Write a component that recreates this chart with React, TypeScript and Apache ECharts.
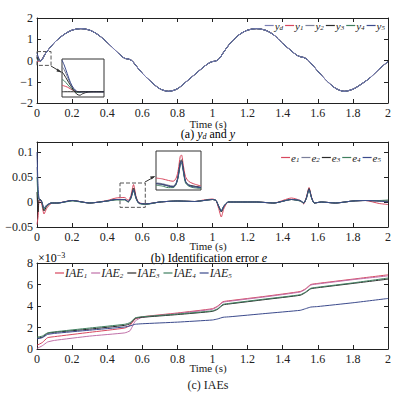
import React, { useEffect, useRef } from "react";
import * as echarts from "echarts";

const FONT = "'Liberation Serif', 'Times New Roman', serif";

// ---------- (a) reference and outputs ----------
const ydT = [0, 0.02, 0.05, 0.1, 0.15, 0.2, 0.25, 0.3, 0.35, 0.4, 0.45, 0.48, 0.5, 0.52, 0.54, 0.56, 0.6, 0.65, 0.7, 0.75, 0.8, 0.85, 0.9, 0.95, 0.98, 1.0, 1.02, 1.04, 1.06, 1.1, 1.15, 1.2, 1.25, 1.3, 1.35, 1.4, 1.45, 1.48, 1.5, 1.52, 1.54, 1.56, 1.6, 1.65, 1.7, 1.75, 1.8, 1.85, 1.9, 1.95, 2.0];
const ydV = [0, -0.02, 0.35, 0.85, 1.2, 1.43, 1.5, 1.43, 1.2, 0.85, 0.45, 0.22, 0.1, 0.07, 0.0, -0.2, -0.6, -1.0, -1.33, -1.45, -1.33, -1.0, -0.65, -0.3, -0.12, -0.05, -0.02, 0.1, 0.35, 0.8, 1.2, 1.43, 1.5, 1.43, 1.2, 0.8, 0.45, 0.25, 0.18, 0.14, 0.05, -0.12, -0.5, -0.95, -1.3, -1.45, -1.35, -1.1, -0.8, -0.4, -0.05];
const y1V = [-0.05, ...ydV.slice(1)];
const y2V = [0.25, ...ydV.slice(1)];
const y3V = [0.15, ...ydV.slice(1)];
const y4V = [0.05, ...ydV.slice(1)];
const y5V = [0.35, ...ydV.slice(1)];

// inset (a): start-up transient
const insAT = [0, 0.004, 0.01, 0.016, 0.022, 0.028, 0.034, 0.04, 0.05, 0.06, 0.08];
const insYd = [-0.16, -0.16, -0.16, -0.16, -0.16, -0.16, -0.16, -0.16, -0.16, -0.16, -0.16];
const insY1 = [-0.05, -0.06, -0.08, -0.11, -0.14, -0.16, -0.165, -0.16, -0.16, -0.16, -0.16];
const insY2 = [0.27, 0.22, 0.1, -0.02, -0.11, -0.16, -0.17, -0.16, -0.16, -0.16, -0.16];
const insY3 = [0.18, 0.13, 0.04, -0.05, -0.13, -0.2, -0.22, -0.19, -0.165, -0.16, -0.16];
const insY4 = [0.05, 0.03, -0.03, -0.09, -0.14, -0.17, -0.17, -0.16, -0.16, -0.16, -0.16];
const insY5 = [0.38, 0.3, 0.15, 0.0, -0.1, -0.15, -0.165, -0.16, -0.16, -0.16, -0.16];

// ---------- (b) identification errors ----------
const eT = [0, 0.006, 0.012, 0.02, 0.028, 0.04, 0.055, 0.08, 0.12, 0.2, 0.3, 0.4, 0.45, 0.5, 0.52, 0.535, 0.55, 0.565, 0.58, 0.62, 0.7, 0.8, 0.9, 0.95, 1.0, 1.02, 1.035, 1.05, 1.065, 1.09, 1.15, 1.25, 1.35, 1.45, 1.5, 1.52, 1.535, 1.55, 1.565, 1.58, 1.62, 1.7, 1.8, 1.87, 1.95, 2.0];
const e1 = [-0.045, -0.03, 0.004, 0.004, -0.006, -0.024, -0.013, -0.003, -0.002, 0.003, -0.002, 0.003, 0.008, 0.009, 0.003, 0.013, 0.035, 0.01, -0.001, -0.004, 0.0, 0.002, 0.001, 0.004, 0.006, 0.003, -0.013, -0.03, -0.013, 0.0, 0.0, 0.0, -0.002, 0.008, 0.003, -0.004, 0.01, 0.029, 0.009, -0.002, 0.0, -0.002, 0.002, 0.003, -0.003, -0.005];
const e2 = [0.07, 0.02, 0.006, 0.005, 0.0, -0.016, -0.008, -0.002, -0.002, 0.003, -0.002, 0.002, 0.005, 0.005, 0.001, 0.008, 0.026, 0.008, -0.002, -0.004, 0.0, 0.002, 0.001, 0.003, 0.005, 0.003, -0.008, -0.019, -0.008, 0.0, 0.0, 0.0, -0.002, 0.005, 0.003, -0.002, 0.008, 0.026, 0.008, -0.002, 0.0, -0.002, 0.002, 0.003, 0.002, 0.001];
const e3 = [0.02, -0.02, 0.005, 0.005, -0.001, -0.018, -0.009, -0.002, -0.002, 0.003, -0.002, 0.002, 0.005, 0.005, 0.0, 0.009, 0.028, 0.008, -0.002, -0.004, 0.0, 0.002, 0.001, 0.003, 0.005, 0.003, -0.009, -0.02, -0.009, 0.0, 0.0, 0.0, -0.002, 0.005, 0.002, -0.002, 0.008, 0.027, 0.008, -0.002, 0.0, -0.002, 0.002, 0.003, 0.002, 0.002];
const e4 = [0.05, 0.01, 0.005, 0.004, 0.0, -0.014, -0.007, -0.002, -0.002, 0.002, -0.002, 0.002, 0.004, 0.004, 0.0, 0.007, 0.022, 0.006, -0.003, -0.005, 0.0, 0.002, 0.001, 0.003, 0.005, 0.003, -0.008, -0.017, -0.008, 0.0, 0.0, 0.0, -0.002, 0.005, 0.002, -0.002, 0.007, 0.024, 0.007, -0.002, 0.0, -0.002, 0.002, 0.003, 0.003, 0.004];
const e5 = [0.1, 0.03, 0.005, 0.004, 0.0, -0.012, -0.006, -0.002, -0.002, 0.003, -0.002, 0.002, 0.005, 0.005, 0.001, 0.008, 0.024, 0.007, -0.002, -0.004, 0.0, 0.002, 0.001, 0.003, 0.005, 0.003, -0.008, -0.018, -0.008, 0.0, 0.0, 0.0, -0.002, 0.005, 0.003, -0.002, 0.008, 0.025, 0.008, -0.002, 0.0, -0.002, 0.002, 0.003, 0.002, 0.0];

// inset (b): zoom on the spike near 0.55 s
const insBT = [0.47, 0.49, 0.51, 0.525, 0.535, 0.542, 0.548, 0.552, 0.558, 0.565, 0.575, 0.59, 0.615];
const insE1 = [0.004, 0.003, 0.001, 0.0, 0.004, 0.015, 0.031, 0.033, 0.02, 0.006, 0.0, -0.003, -0.006];
const insE2 = [-0.002, -0.003, -0.005, -0.006, -0.002, 0.008, 0.022, 0.025, 0.014, 0.0, -0.004, -0.006, -0.007];
const insE3 = [-0.003, -0.004, -0.006, -0.007, -0.003, 0.008, 0.024, 0.027, 0.015, 0.0, -0.005, -0.006, -0.008];
const insE4 = [-0.005, -0.006, -0.008, -0.008, -0.004, 0.006, 0.02, 0.023, 0.012, -0.002, -0.006, -0.008, -0.009];
const insE5 = [-0.003, -0.004, -0.006, -0.007, -0.003, 0.007, 0.022, 0.025, 0.014, 0.0, -0.005, -0.007, -0.008];

// ---------- (c) IAEs (x 10^-3) ----------
const iT = [0, 0.03, 0.06, 0.1, 0.3, 0.5, 0.53, 0.56, 0.6, 0.8, 1.0, 1.03, 1.06, 1.1, 1.3, 1.5, 1.53, 1.56, 1.6, 1.8, 2.0];
const iae1 = [0.35, 0.6, 1.05, 1.15, 1.55, 1.95, 2.2, 2.8, 3.0, 3.35, 3.75, 4.0, 4.4, 4.5, 4.9, 5.35, 5.6, 6.0, 6.1, 6.5, 6.9];
const iae2 = [0.05, 0.3, 0.65, 0.8, 1.2, 1.5, 1.7, 2.6, 2.95, 3.3, 3.7, 3.95, 4.35, 4.45, 4.85, 5.3, 5.55, 5.95, 6.05, 6.45, 6.8];
const iae3 = [1.0, 1.1, 1.45, 1.55, 1.85, 2.2, 2.35, 2.85, 2.95, 3.2, 3.5, 3.7, 4.1, 4.2, 4.6, 5.0, 5.25, 5.6, 5.7, 6.1, 6.5];
const iae4 = [1.1, 1.2, 1.5, 1.6, 1.95, 2.3, 2.45, 2.9, 3.0, 3.25, 3.55, 3.75, 4.15, 4.25, 4.65, 5.05, 5.3, 5.65, 5.75, 6.15, 6.6];
const iae5 = [0.95, 1.05, 1.35, 1.45, 1.75, 2.05, 2.15, 2.3, 2.35, 2.5, 2.7, 2.8, 2.95, 3.0, 3.3, 3.6, 3.75, 3.9, 3.95, 4.3, 4.7];

const xTicks = { min: 0, max: 2, interval: 0.2 };

const C = {
  yd: "#7c80b6",
  s1: "#d8475e",
  s2: "#7a7f9a",
  s3: "#2a2a2a",
  s4: "#3f7f5f",
  s5: "#3b4a8c",
  iae2: "#c070a8",
};

const zip = (t: number[], v: number[]) => t.map((x, i) => [x, v[i]]);

const rich = {
  i: { fontFamily: FONT, fontStyle: "italic", fontSize: 11, color: "#222" },
  s: { fontFamily: FONT, fontStyle: "italic", fontSize: 7, color: "#222", padding: [5, 0, 0, 0] },
  n: { fontFamily: FONT, fontSize: 12, color: "#222" },
  ni: { fontFamily: FONT, fontSize: 12, fontStyle: "italic", color: "#222" },
  ns: { fontFamily: FONT, fontSize: 8, fontStyle: "italic", color: "#222", padding: [5, 0, 0, 0] },
  sup: { fontFamily: FONT, fontSize: 8, color: "#222", padding: [0, 0, 6, 0] },
};

const legendFmt = (name: string) => {
  const m = name.match(/^([A-Za-z]+?)(d|\d)$/);
  if (!m) return name;
  return `{i|${m[1]}}{s|${m[2]}}`;
};

const minus = (v: number) => String(v).replace("-", "\u2212");

const line = {
  axisLine: { show: true, onZero: false, lineStyle: { color: "#222", width: 1 } },
  axisTick: { show: true, inside: true, length: 4, lineStyle: { color: "#222" } },
  splitLine: { show: false },
};
const label = { fontFamily: FONT, fontSize: 12, color: "#222", margin: 4 };

function makeX(grid: number) {
  return [
    { gridIndex: grid, type: "value", ...xTicks, ...line, axisLabel: { ...label, formatter: (v: number) => minus(v) } },
    { gridIndex: grid, type: "value", position: "top", ...xTicks, ...line, axisLabel: { show: false } },
  ];
}
function makeY(grid: number, min: number, max: number, interval: number, showMax: boolean) {
  return [
    { gridIndex: grid, type: "value", min, max, interval, ...line, axisLabel: { ...label, showMaxLabel: showMax, formatter: (v: number) => minus(v) } },
    { gridIndex: grid, type: "value", position: "right", min, max, interval, ...line, axisLabel: { show: false } },
  ];
}

function lineSeries(name: string, data: number[][], color: string, xi: number, yi: number, extra: any = {}) {
  return {
    name,
    type: "line",
    data,
    xAxisIndex: xi,
    yAxisIndex: yi,
    symbol: "none",
    smooth: 0.3,
    lineStyle: { color, width: 1 },
    itemStyle: { color },
    ...extra,
  };
}

const dashedArea = (x0: number, y0: number, x1: number, y1: number) => ({
  silent: true,
  itemStyle: { color: "rgba(0,0,0,0)", borderColor: "#555", borderWidth: 1, borderType: "dashed" },
  data: [[{ xAxis: x0, yAxis: y0 }, { xAxis: x1, yAxis: y1 }]],
});

const legendBase = {
  icon: "rect",
  itemWidth: 9,
  itemHeight: 1.2,
  itemGap: 2,
  padding: 0,
  formatter: legendFmt,
  textStyle: { fontFamily: FONT, fontSize: 11, color: "#222", padding: [0, 0, 0, -4], rich },
};

const plainText = (x: number, y: number, text: string, size: number) => ({
  type: "text",
  style: { x, y, text, font: `${size}px ${FONT}`, fill: "#222", align: "center", verticalAlign: "middle" },
});

export default function App() {
  const ref = useRef<HTMLDivElement>(null);
  useEffect(() => {
    if (!ref.current) return;
    const chart = echarts.init(ref.current, undefined, { renderer: "svg" });
    const hiddenAxis = (grid: number, min: number, max: number) => ({ gridIndex: grid, type: "value", min, max, show: false });
    const option: any = {
      animation: false,
      backgroundColor: "#fff",
      grid: [
        { left: 37, top: 18, width: 351, height: 85, show: false },
        { left: 37, top: 142, width: 351, height: 85, show: false },
        { left: 37, top: 263, width: 351, height: 86, show: false },
        { left: 62, top: 59, width: 42, height: 38, show: true, borderColor: "#333", borderWidth: 1, backgroundColor: "#fff" },
        { left: 156, top: 151, width: 45, height: 39, show: true, borderColor: "#333", borderWidth: 1, backgroundColor: "#fff" },
      ],
      xAxis: [
        ...makeX(0),
        ...makeX(1),
        ...makeX(2),
        hiddenAxis(3, 0, 0.08),
        hiddenAxis(4, 0.47, 0.615),
      ],
      yAxis: [
        ...makeY(0, -2, 2, 1, true),
        ...makeY(1, -0.05, 0.12, 0.05, false),
        ...makeY(2, 0, 8, 2, true),
        hiddenAxis(3, -0.25, 0.4),
        hiddenAxis(4, -0.011, 0.038),
      ],
      legend: [
        { ...legendBase, data: ["yd", "y1", "y2", "y3", "y4", "y5"], right: 12, top: 20 },
        { ...legendBase, data: ["e1", "e2", "e3", "e4", "e5"], right: 16, top: 152 },
        {
          ...legendBase,
          data: ["IAE1", "IAE2", "IAE3", "IAE4", "IAE5"],
          left: 55,
          top: 267,
          itemGap: 4,
          textStyle: { ...legendBase.textStyle, rich: { ...rich, i: { ...rich.i, fontSize: 12 } } },
        },
      ],
      series: [
        lineSeries("y1", zip(ydT, y1V), C.s1, 0, 0),
        lineSeries("y2", zip(ydT, y2V), C.s2, 0, 0),
        lineSeries("y3", zip(ydT, y3V), C.s3, 0, 0),
        lineSeries("y4", zip(ydT, y4V), C.s4, 0, 0),
        lineSeries("y5", zip(ydT, y5V), C.s5, 0, 0),
        lineSeries("yd", zip(ydT, ydV), C.yd, 0, 0, { markArea: dashedArea(0, 0.42, 0.08, -0.23) }),

        lineSeries("in_y1", zip(insAT, insY1), C.s1, 6, 6),
        lineSeries("in_y2", zip(insAT, insY2), C.s2, 6, 6),
        lineSeries("in_y4", zip(insAT, insY4), C.s4, 6, 6),
        lineSeries("in_y3", zip(insAT, insY3), C.s3, 6, 6),
        lineSeries("in_y5", zip(insAT, insY5), C.s5, 6, 6),
        lineSeries("in_yd", zip(insAT, insYd), C.s3, 6, 6),

        lineSeries("e1", zip(eT, e1), C.s1, 2, 2, { smooth: 0.2 }),
        lineSeries("e2", zip(eT, e2), C.s2, 2, 2, { smooth: 0.2 }),
        lineSeries("e3", zip(eT, e3), C.s3, 2, 2, { smooth: 0.2 }),
        lineSeries("e4", zip(eT, e4), C.s4, 2, 2, { smooth: 0.2 }),
        lineSeries("e5", zip(eT, e5), C.s5, 2, 2, { smooth: 0.2, markArea: dashedArea(0.473, 0.038, 0.617, -0.0107) }),

        lineSeries("in_e1", zip(insBT, insE1), C.s1, 7, 7),
        lineSeries("in_e2", zip(insBT, insE2), C.s2, 7, 7),
        lineSeries("in_e3", zip(insBT, insE3), C.s3, 7, 7),
        lineSeries("in_e4", zip(insBT, insE4), C.s4, 7, 7),
        lineSeries("in_e5", zip(insBT, insE5), C.s5, 7, 7),

        lineSeries("IAE1", zip(iT, iae1), C.s1, 4, 4, { smooth: 0.15 }),
        lineSeries("IAE2", zip(iT, iae2), C.iae2, 4, 4, { smooth: 0.15 }),
        lineSeries("IAE3", zip(iT, iae3), C.s3, 4, 4, { smooth: 0.15 }),
        lineSeries("IAE4", zip(iT, iae4), C.s4, 4, 4, { smooth: 0.15 }),
        lineSeries("IAE5", zip(iT, iae5), C.s5, 4, 4, { smooth: 0.15 }),
      ],
      graphic: [
        plainText(208, 124, "Time (s)", 11),
        { type: "text", style: { x: 208, y: 134, text: "{n|(a) }{ni|y}{ns|d}{n| and }{ni|y}", rich, align: "center", verticalAlign: "middle" } },
        plainText(208, 246, "Time (s)", 11),
        { type: "text", style: { x: 209, y: 258, text: "{n|(b) Identification error }{ni|e}", rich, align: "center", verticalAlign: "middle" } },
        plainText(208, 368, "Time (s)", 11),
        plainText(208, 385, "(c) IAEs", 12),
        { type: "text", style: { x: 38, y: 258, text: "{n|\u00d710}{sup|\u22123}", rich, align: "left", verticalAlign: "middle" } },
        { type: "line", shape: { x1: 51, y1: 66, x2: 61, y2: 72 }, style: { stroke: "#333", lineWidth: 1 } },
        { type: "polygon", shape: { points: [[62, 72.5], [57.5, 68.5], [56.5, 71.5]] }, style: { fill: "#333" } },
        { type: "line", shape: { x1: 145, y1: 182, x2: 154, y2: 177 }, style: { stroke: "#333", lineWidth: 1 } },
        { type: "polygon", shape: { points: [[155.5, 176], [150, 176.5], [151.5, 179.5]] }, style: { fill: "#333" } },
      ],
    };
    chart.setOption(option);
    return () => chart.dispose();
  }, []);
  return <div ref={ref} style={{ position: "fixed", left: 0, top: 0, width: 397, height: 394, background: "#fff" }} />;
}
